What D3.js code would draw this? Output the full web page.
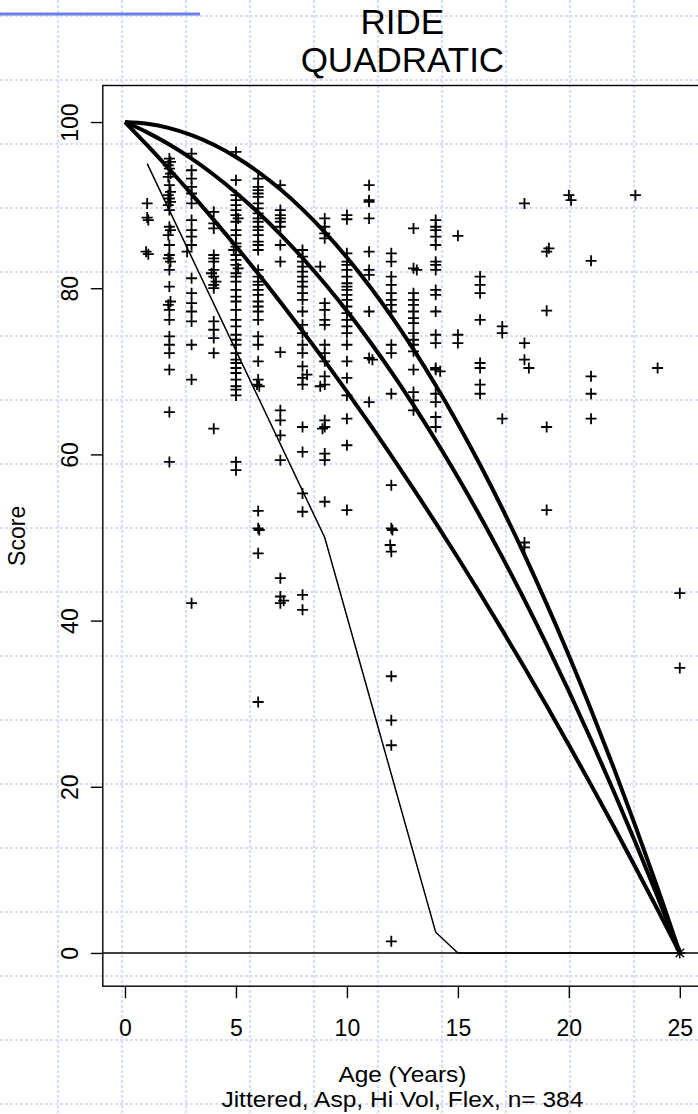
<!DOCTYPE html>
<html><head><meta charset="utf-8">
<script src="https://cdn.jsdelivr.net/npm/d3@7"></script>
<style>html,body{margin:0;padding:0;background:#fff;}svg{display:block;}text{font-family:"Liberation Sans",Arial,sans-serif;}</style>
</head><body>
<script>
// ---- data ----
const titleLines = ["RIDE", "QUADRATIC"];
const xLabel = "Age (Years)";
const subLabel = "Jittered, Asp, Hi Vol, Flex, n= 384";
const yLabel = "Score";
const xTicks = [0, 5, 10, 15, 20, 25];
const yTicks = [0, 20, 40, 60, 80, 100];
const curveAges = [0,1,2,3,4,5,6,7,8,9,10,11,12,13,14,15,16,17,18,19,20,21,22,23,24,25];
const curveTop = [100,99.79,99.27,98.43,97.27,95.80,94.01,91.91,89.49,86.75,83.70,80.33,76.65,72.65,68.33,63.70,58.75,53.49,47.91,42.01,35.80,29.27,22.43,15.27,7.79,0];
const curveMid = [100,98.76,97.29,95.59,93.66,91.50,89.11,86.49,83.64,80.56,77.25,73.71,69.94,65.94,61.71,57.25,52.56,47.64,42.49,37.11,31.50,25.66,19.59,13.29,6.76,0];
const curveLow = [100,97.21,94.32,91.33,88.23,85.04,81.75,78.35,74.85,71.26,67.56,63.76,59.86,55.86,51.76,47.56,43.26,38.85,34.35,29.75,25.04,20.23,15.33,10.32,5.21,0];
const thinLine = [[1,95],[9,50],[14,2.5],[15,0],[25,0]];
const endPoint = [25, 0];
const points = [
 [1.0,90.2],[1.0,88.5],[1.05,88.2],[0.95,84.4],[1.05,84.1],
 [2,95.6],[2.05,95.2],[1.95,94.8],[2,94.4],[2.05,93.8],[1.95,93.4],[2,92.4],[2.05,91.6],[1.95,91.2],[2,90.8],[2.05,90.4],[1.95,90.0],[2,89.4],[2,87.4],[2.05,87.0],[1.95,86.4],[2,85.2],[2,84.0],[1.95,83.6],[2.05,83.2],[2,82.2],[2,80.2],[2.05,78.4],[1.95,78.0],[2,77.4],[2,76.2],[2,74.2],[2,73.2],[2,72.2],[2,70.2],[2,65.1],[2,59.1],
 [3,96.2],[3,94.2],[3,93.2],[3,92.2],[3,91.4],[3,90.2],[3,88.2],[3,87.0],[3,86.2],[3,85.2],[2.8,84.4],[3,81.2],[3,79.4],[3,78.2],[3,77.2],[3,76.0],[3,73.2],[3,69.0],[3,42.1],
 [4,89.2],[4,87.8],[4,87.2],[4,84.0],[4,83.6],[4,83.2],[4,82.2],[3.9,81.8],[4,81.4],[4.1,80.8],[4,80.4],[4,80.0],[4,76.0],[4,75.0],[4,74.0],[4,72.2],[4,63.1],
 [5,96.4],[5,93.0],[5,91.2],[5,90.6],[5,90.0],[5,89.4],[5,88.8],[5.1,88.4],[5,88.0],[5,87.0],[5,86.4],[5,85.4],[5,85.0],[4.9,84.6],[5,84.0],[5,83.4],[5,82.8],[5.1,82.4],[5,81.8],[5,81.4],[5,80.8],[5,79.8],[5,79.0],[5,78.4],[5,77.4],[5,76.2],[5,75.4],[5,74.4],[5,73.8],[5,73.2],[5,72.2],[5,71.4],[5,71.0],[5,70.4],[5,69.8],[5,69.0],[5,68.2],[5,67.8],[5,67.1],[5,59.1],[5,58.1],
 [6,93.2],[6,92.2],[6,91.8],[6,91.4],[6,91.0],[6,90.2],[6,89.6],[6,89.0],[6,88.4],[6,88.0],[6,87.4],[6,87.0],[6,86.4],[6,85.6],[6,85.2],[6,84.6],[6,82.2],[6,81.4],[6,80.8],[6,80.4],[6,79.8],[6,79.2],[6,78.4],[6,77.8],[6,77.2],[6,76.2],[6,74.2],[6,73.2],[6,71.2],[6,69.0],[5.95,68.4],[6.05,68.2],[6,53.2],[6,51.1],[6.05,50.9],[6,48.1],[6,30.2],
 [7,92.4],[7,89.4],[7,88.8],[7,88.4],[7,88.0],[7,87.4],[7,85.2],[7,83.2],[7,72.3],[7,65.3],[7,64.1],[7,62.3],[7,59.3],[7,45.1],[7,42.9],[7.15,42.4],[7,42.1],
 [8,84.6],[8,83.8],[8,83.2],[8,82.6],[8,82.0],[8,81.4],[8,80.8],[8,80.2],[8,79.4],[8,78.6],[8,77.2],[8,75.6],[8,74.6],[8,73.2],[8,72.2],[8,70.6],[8.2,69.6],[8,69.2],[8,68.4],[8,63.3],[8,60.3],[8,55.3],[8,53.1],[8,43.1],[8,41.3],
 [9,88.4],[9,87.4],[9,86.6],[9,86.0],[8.8,82.6],[9,78.2],[9,77.4],[9,76.2],[9,75.6],[9,73.2],[9,72.2],[9,71.2],[9,69.4],[9,68.4],[8.8,68.2],[9,64.1],[9,63.3],[8.9,63.1],[9,60.1],[9,59.3],[9,54.3],
 [10,88.8],[10,88.3],[10,84.2],[10,83.2],[10,82.8],[10,82.2],[10,81.4],[10,80.6],[10,80.2],[10,79.8],[10,79.2],[10,78.6],[10,77.8],[10,77.0],[10,76.2],[10,75.4],[10,74.6],[10,73.2],[10,71.2],[10,69.2],[10,67.1],[10,64.3],[10,61.1],[10,53.3],
 [11,92.4],[11,90.6],[11,90.4],[11,88.4],[11,84.4],[11,82.2],[11,81.6],[11,77.2],[11,71.6],[11.15,71.4],[11,66.3],
 [12,84.2],[12,83.2],[12,81.4],[12,80.4],[12,79.4],[12,78.6],[12,78.0],[12,77.2],[12,73.2],[12,72.2],[12,67.3],[12,56.3],[12,51.1],[12.05,50.9],[11.95,49.1],[12,48.3],[12,33.3],[12,28.0],[12,25.0],[12,1.4],
 [13,87.2],[13,82.4],[13.15,82.2],[13,79.4],[13,78.6],[13,78.0],[13,77.2],[13,76.4],[13,75.8],[13,74.6],[13,73.8],[13,73.2],[13,72.4],[13,70.2],[13,67.5],[13,66.5],[13,65.3],
 [14,88.2],[14,87.4],[14,87.0],[14,86.2],[14,85.2],[14,83.2],[14,82.8],[14,82.2],[14,79.8],[14,79.2],[14,77.2],[14,74.4],[14,73.4],[14,70.4],[14,70.2],[14.2,70.0],[14,67.3],[14,66.3],[14,64.5],[14,63.3],
 [15,86.3],[15,74.4],[15,73.4],
 [16,81.4],[16,80.4],[16,79.4],[16,76.2],[16,71.0],[16,70.4],[16,68.4],[16,67.3],
 [17,75.4],[17,74.6],[17,64.3],
 [18,90.2],[18,73.4],[18,71.4],[18.2,70.4],[18,49.4],[18,48.8],
 [19.1,84.8],[19,84.4],[19,77.3],[19,63.3],[19,53.3],
 [20,91.2],[20.1,90.6],
 [21,83.3],[21,69.4],[21,67.3],[21,64.3],
 [23,91.2],
 [24,70.4],
 [25,43.3],[25,34.3]
];

// ---- layout ----
const W = 698, H = 1114;
const svg = d3.select("body").append("svg").attr("width", W).attr("height", H);

// background slide grid
const bg = svg.append("g");
const vGrid = d3.range(58, W, 64);
const hGrid = d3.range(16, H, 64);
bg.selectAll("line.v").data(vGrid).join("line")
  .attr("x1", d => d).attr("x2", d => d).attr("y1", 0).attr("y2", H)
  .attr("stroke", "#d6def8").attr("stroke-width", 2.2).attr("stroke-dasharray", "3,2");
bg.selectAll("line.h").data(hGrid).join("line")
  .attr("y1", d => d).attr("y2", d => d).attr("x1", 0).attr("x2", W)
  .attr("stroke", "#d6def8").attr("stroke-width", 2.2).attr("stroke-dasharray", "3,2");
svg.append("line").attr("x1", 0).attr("x2", 200).attr("y1", 14).attr("y2", 14)
  .attr("stroke", "#6d80e8").attr("stroke-width", 3);

const x = d3.scaleLinear().domain([-1, 26]).range([102.8, 702]);
const y = d3.scaleLinear().domain([-4, 104]).range([986.2, 88.8]);
const cx = (102.8 + 702) / 2;
const boxTop = 85.5, boxBottom = 986.2;

// box
svg.append("rect").attr("x", 102.8).attr("y", boxTop).attr("width", 702 - 102.8).attr("height", boxBottom - boxTop)
  .attr("fill", "none").attr("stroke", "#000").attr("stroke-width", 1.4);

// axes
const xAxis = d3.axisBottom(x).tickValues(xTicks).tickSize(12).tickPadding(0).tickFormat(d3.format("d"));
const gx = svg.append("g").attr("transform", `translate(0,${boxBottom})`).call(xAxis);
gx.select(".domain").remove();
gx.selectAll(".tick line").attr("stroke-width", 1.4);
gx.selectAll(".tick text").attr("y", 50).attr("dy", null).attr("font-size", 23).attr("fill", "#000")
  .style("font-family", "Liberation Sans, Arial, sans-serif");

const yAxis = d3.axisLeft(y).tickValues(yTicks).tickSize(12).tickFormat(d3.format("d"));
const gy = svg.append("g").attr("transform", "translate(102.8,0)").call(yAxis);
gy.select(".domain").remove();
gy.selectAll(".tick line").attr("stroke-width", 1.4);
gy.selectAll(".tick text").attr("x", null).attr("dy", null)
  .attr("transform", "translate(-25,0) rotate(-90)").attr("text-anchor", "middle")
  .attr("font-size", 23).attr("fill", "#000").style("font-family", "Liberation Sans, Arial, sans-serif");

// labels
svg.append("text").attr("x", cx).attr("y", 1082).attr("text-anchor", "middle").attr("font-size", 21.5)
  .attr("textLength", 128).attr("lengthAdjust", "spacingAndGlyphs").text(xLabel);
svg.append("text").attr("x", cx).attr("y", 1107).attr("text-anchor", "middle").attr("font-size", 21.5)
  .attr("textLength", 362).attr("lengthAdjust", "spacingAndGlyphs").text(subLabel);
svg.append("text").attr("transform", `translate(25,${(boxTop + boxBottom) / 2}) rotate(-90)`).attr("text-anchor", "middle").attr("font-size", 23).text(yLabel);
svg.selectAll("text.title").data(titleLines).join("text").attr("class", "title")
  .attr("x", cx).attr("y", (d, i) => 34 + i * 38).attr("text-anchor", "middle").attr("font-size", 35).text(d => d);

// plotting area
const plot = svg.append("g");
plot.append("line").attr("x1", x(-1)).attr("x2", x(26)).attr("y1", y(0)).attr("y2", y(0))
  .attr("stroke", "#000").attr("stroke-width", 1.4);

const line = d3.line().x(d => x(d[0])).y(d => y(d[1]));
const smooth = d3.line().x(d => x(d[0])).y(d => y(d[1])).curve(d3.curveCatmullRom);
[curveTop, curveMid, curveLow].forEach(c => {
  plot.append("path").datum(curveAges.map((a, i) => [a, c[i]])).attr("d", smooth)
    .attr("fill", "none").attr("stroke", "#000").attr("stroke-width", 4);
});
plot.append("path").datum(thinLine).attr("d", line).attr("fill", "none").attr("stroke", "#000").attr("stroke-width", 1.5);

const s = 5.5;
plot.selectAll("path.pt").data(points).join("path").attr("class", "pt")
  .attr("d", d => `M${x(d[0]) - s},${y(d[1])}H${x(d[0]) + s}M${x(d[0])},${y(d[1]) - s}V${y(d[1]) + s}`)
  .attr("stroke", "#000").attr("stroke-width", 1.8).attr("fill", "none");

const ex = x(endPoint[0]), ey = y(endPoint[1]), a = 5.5, b = 4.2;
plot.append("path")
  .attr("d", `M${ex - a},${ey}H${ex + a}M${ex},${ey - a}V${ey + a}M${ex - b},${ey - b}L${ex + b},${ey + b}M${ex - b},${ey + b}L${ex + b},${ey - b}`)
  .attr("stroke", "#000").attr("stroke-width", 1.4).attr("fill", "none");
</script>
</body></html>
